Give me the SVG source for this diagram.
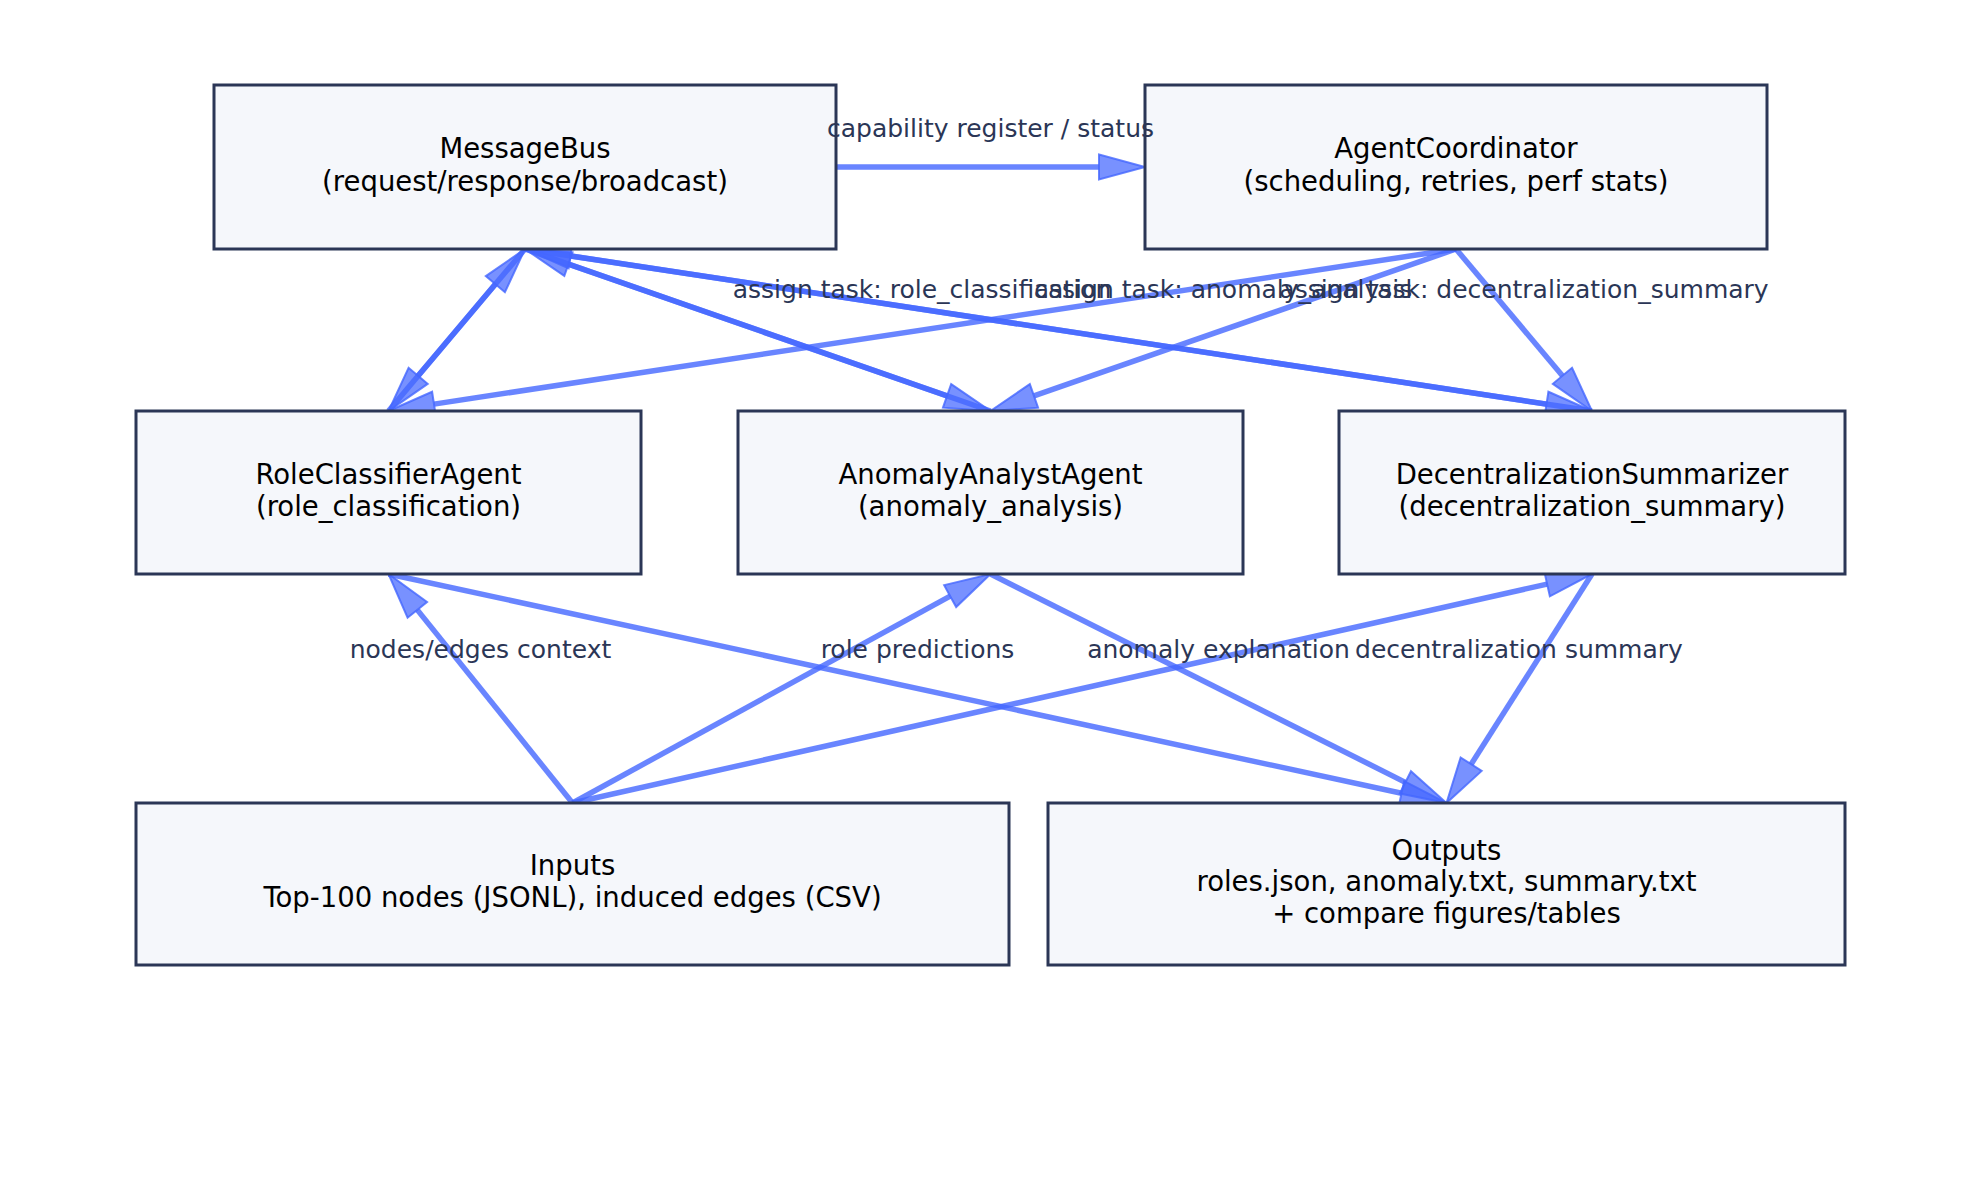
<svg xmlns="http://www.w3.org/2000/svg" width="1979" height="1180" viewBox="0 0 1979 1180">
<style>
.box{fill:#f5f7fb;stroke:#2b3656;stroke-width:3}
.nt{font-family:"DejaVu Sans",sans-serif;font-size:27.5px;fill:#000;text-anchor:middle}
.el{font-family:"DejaVu Sans",sans-serif;font-size:25px;fill:#2b3656;text-anchor:middle}
.e{stroke:#4466ff;stroke-opacity:0.8;stroke-width:5.5;fill:none;marker-end:url(#ah)}
</style>
<defs>
<marker id="ah" markerUnits="userSpaceOnUse" markerWidth="52" markerHeight="32" viewBox="0 -16 52 32" refX="0" refY="0" orient="auto" overflow="visible">
<path d="M0,-12.5 L46,0 L0,12.5 Z" fill="#4466ff" fill-opacity="0.72" stroke="#4466ff" stroke-opacity="0.8" stroke-width="2" stroke-linejoin="miter"/>
</marker>
</defs>
<rect width="1979" height="1180" fill="#ffffff"/>
<g id="connectors">
<line class="e" x1="836" y1="167" x2="1099" y2="167"/>
<line class="e" x1="1456" y1="249" x2="433.98" y2="404.10"/>
<line class="e" x1="1456" y1="249" x2="1033.94" y2="395.88"/>
<line class="e" x1="1456" y1="249" x2="1562.42" y2="375.77"/>
<line class="e" x1="525" y1="249" x2="418.14" y2="375.82"/>
<line class="e" x1="388.5" y1="411" x2="495.36" y2="284.18"/>
<line class="e" x1="525" y1="249" x2="947.06" y2="395.88"/>
<line class="e" x1="990.5" y1="411" x2="568.44" y2="264.12"/>
<line class="e" x1="525" y1="249" x2="1546.52" y2="404.10"/>
<line class="e" x1="1592" y1="411" x2="570.48" y2="255.91"/>
<line class="e" x1="572.5" y1="803" x2="417.31" y2="609.86"/>
<line class="e" x1="572.5" y1="803" x2="950.16" y2="596.10"/>
<line class="e" x1="572.5" y1="803" x2="1547.12" y2="584.08"/>
<line class="e" x1="388.5" y1="574" x2="1401.54" y2="793.27"/>
<line class="e" x1="990.5" y1="574" x2="1405.39" y2="782.36"/>
<line class="e" x1="1592" y1="574" x2="1471.17" y2="764.17"/>
</g>
<g id="MessageBus">
<rect class="box" x="214" y="85" width="622" height="164"/>
<text class="nt" x="525" y="158">MessageBus</text>
<text class="nt" x="525" y="191">(request/response/broadcast)</text>
</g>
<g id="AgentCoordinator">
<rect class="box" x="1145" y="85" width="622" height="164"/>
<text class="nt" x="1456" y="158">AgentCoordinator</text>
<text class="nt" x="1456" y="191">(scheduling, retries, perf stats)</text>
</g>
<g id="RoleClassifierAgent">
<rect class="box" x="136" y="411" width="505" height="163"/>
<text class="nt" x="388.5" y="484">RoleClassifierAgent</text>
<text class="nt" x="388.5" y="516">(role_classification)</text>
</g>
<g id="AnomalyAnalystAgent">
<rect class="box" x="738" y="411" width="505" height="163"/>
<text class="nt" x="990.5" y="484">AnomalyAnalystAgent</text>
<text class="nt" x="990.5" y="516">(anomaly_analysis)</text>
</g>
<g id="DecentralizationSummarizer">
<rect class="box" x="1339" y="411" width="506" height="163"/>
<text class="nt" x="1592" y="484">DecentralizationSummarizer</text>
<text class="nt" x="1592" y="516">(decentralization_summary)</text>
</g>
<g id="Inputs">
<rect class="box" x="136" y="803" width="873" height="162"/>
<text class="nt" x="572.5" y="875">Inputs</text>
<text class="nt" x="572.5" y="907">Top-100 nodes (JSONL), induced edges (CSV)</text>
</g>
<g id="Outputs">
<rect class="box" x="1048" y="803" width="797" height="162"/>
<text class="nt" x="1446.5" y="860">Outputs</text>
<text class="nt" x="1446.5" y="891">roles.json, anomaly.txt, summary.txt</text>
<text class="nt" x="1446.5" y="923">+ compare figures/tables</text>
</g>
<g id="edge-labels">
<text class="el" x="990.5" y="137">capability register / status</text>
<text class="el" x="922" y="298">assign task: role_classification</text>
<text class="el" x="1223" y="298">assign task: anomaly_analysis</text>
<text class="el" x="1524" y="298">assign task: decentralization_summary</text>
<text class="el" x="480.5" y="658">nodes/edges context</text>
<text class="el" x="917.5" y="658">role predictions</text>
<text class="el" x="1218.5" y="658">anomaly explanation</text>
<text class="el" x="1519" y="658">decentralization summary</text>
</g>
</svg>
